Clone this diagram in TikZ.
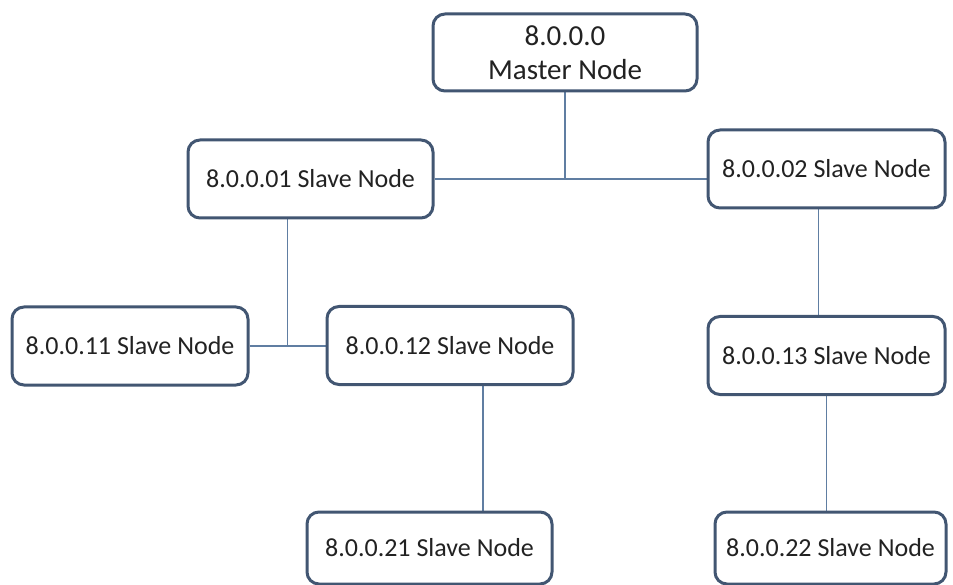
\documentclass[tikz,border=0pt]{standalone}
\usepackage{fontspec}
\setmainfont{Carlito}
\usetikzlibrary{backgrounds}

\definecolor{boxline}{RGB}{66,86,114}
\definecolor{wire}{RGB}{96,126,162}
\definecolor{ink}{RGB}{34,34,34}

\begin{document}
\begin{tikzpicture}[x=1pt, y=-1pt,
    every node/.style={draw=boxline, line width=3pt, rounded corners=12pt, fill=white, text=ink, inner sep=0pt},
    master/.style={minimum width=264pt, minimum height=77pt, align=center, font=\fontsize{29}{34}\selectfont},
    slave/.style={minimum width=240pt, minimum height=78pt, font=\fontsize{26}{30}\selectfont},
    link/.style={draw=wire, line width=1.3pt},]

\useasboundingbox (0,0) rectangle (953,585);

\node[master] (master) at (565,52.5) {8.0.0.0\\Master Node};

\node[slave, minimum width=245pt] (s01) at (310.5,179) {8.0.0.01 Slave Node};
\node[slave, minimum width=237pt] (s02) at (826.5,169) {8.0.0.02 Slave Node};

\node[slave, minimum width=236pt] (s11) at (130,346) {8.0.0.11 Slave Node};
\node[slave, minimum width=246pt] (s12) at (450,345.5) {8.0.0.12 Slave Node};
\node[slave, minimum width=237pt] (s13) at (826.5,355.5) {8.0.0.13 Slave Node};

\node[slave, minimum width=245pt, minimum height=72pt] (s21) at (429.5,548) {8.0.0.21 Slave Node};
\node[slave, minimum width=231pt, minimum height=72pt] (s22) at (830.5,548) {8.0.0.22 Slave Node};

\begin{pgfonlayer}{background}
    \draw [link] (master.south) -- (master.south |- s01.east);
    \draw [link] (s01.east) -- (s01.east -| s02.west);
    \draw [link] ([xshift=-23pt]s01.south) -- ([xshift=-23pt]s01.south |- s11.east);
    \draw [link] (s11.east) -- (s11.east -| s12.west);
    \draw [link] ([xshift=-8pt]s02.south) -- ([xshift=-8pt]s02.south |- s13.north);
    \draw [link] ([xshift=33pt]s12.south) -- ([xshift=33pt]s12.south |- s21.north);
    \draw [link] (s13.south) -- (s13.south |- s22.north);
\end{pgfonlayer}

\end{tikzpicture}
\end{document}
